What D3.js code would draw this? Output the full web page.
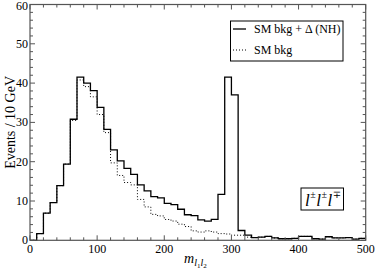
<!DOCTYPE html>
<html>
<head>
<meta charset="utf-8">
<script src="https://cdn.jsdelivr.net/npm/d3@7"></script>
<style>
  body { margin: 0; background: #fff; }
  text { font-family: "Liberation Serif", "DejaVu Serif", serif; fill: #000; }
</style>
</head>
<body>
<div class="chart"></div>
<script>
// bin width 10 GeV, lower edges 0..490
let binEdges = d3.range(0, 500, 10);

// SM bkg + Delta (NH)
let signalBkg = [0, 1.7, 6.9, 9.6, 13.9, 19.4, 30.8, 41.5, 40.0, 38.1,
  33.8, 28.2, 23.0, 20.2, 18.3, 16.8, 14.1, 12.6, 11.1, 10.8,
  9.4, 9.1, 7.9, 6.5, 6.3, 5.2, 4.9, 5.3, 11.7, 41.5,
  37.0, 2.5, 1.3, 0.7, 0.8, 1.0, 0.6, 0.4, 0.4, 0.5,
  1.0, 1.0, 0.4, 0.3, 0.9, 0.6, 0.6, 0.7, 0.3, 0.5];

// SM bkg only
let smBkg = [0, 1.7, 6.9, 9.6, 13.9, 19.4, 30.5, 40.8, 39.1, 36.5,
  32.0, 27.4, 19.7, 16.5, 14.7, 14.1, 10.4, 8.5, 6.6, 6.2,
  5.3, 4.9, 4.1, 3.5, 2.4, 2.1, 2.4, 2.1, 1.7, 1.6,
  1.3, 1.3, 0.8, 0.7, 0.8, 1.0, 0.6, 0.4, 0.4, 0.5,
  1.0, 1.0, 0.4, 0.3, 0.9, 0.6, 0.6, 0.7, 0.3, 0.5];

let xMajor = [0, 100, 200, 300, 400, 500];
let yMajor = [0, 10, 20, 30, 40, 50, 60];

let svgWidth = 376;
let svgHeight = 273;
let plot = { left: 30, right: 365.7, top: 4.5, bottom: 240.3 };

let svg = d3.select(".chart")
  .append("svg")
  .attr("width", svgWidth)
  .attr("height", svgHeight);

let x = d3.scaleLinear().domain([0, 500]).range([plot.left, plot.right]);
let y = d3.scaleLinear().domain([0, 60]).range([plot.bottom, plot.top]);

// histogram step paths
function steps(vals) {
  let pts = binEdges.map((e, i) => [e, vals[i]]);
  pts.push([500, vals[vals.length - 1]]);
  return d3.line()
    .x(d => x(d[0]))
    .y(d => y(d[1]))
    .curve(d3.curveStepAfter)(pts);
}

svg.append("path")
  .attr("d", steps(smBkg))
  .attr("fill", "none")
  .attr("stroke", "#000")
  .attr("stroke-width", 1)
  .attr("stroke-dasharray", "1,2");

svg.append("path")
  .attr("d", steps(signalBkg))
  .attr("fill", "none")
  .attr("stroke", "#000")
  .attr("stroke-width", 1.3);

// frame
svg.append("rect")
  .attr("x", plot.left).attr("y", plot.top)
  .attr("width", plot.right - plot.left)
  .attr("height", plot.bottom - plot.top)
  .attr("fill", "none")
  .attr("stroke", "#555")
  .attr("stroke-width", 1.2);

// inward ticks on all four sides
let ticks = svg.append("g").attr("stroke", "#555").attr("stroke-width", 1);
d3.range(0, 501, 20).forEach(v => {
  let len = v % 100 === 0 ? 5 : 3;
  ticks.append("line").attr("x1", x(v)).attr("x2", x(v)).attr("y1", plot.bottom).attr("y2", plot.bottom - len);
  ticks.append("line").attr("x1", x(v)).attr("x2", x(v)).attr("y1", plot.top).attr("y2", plot.top + len);
});
d3.range(0, 61, 2).forEach(v => {
  let len = v % 10 === 0 ? 5 : 3;
  ticks.append("line").attr("y1", y(v)).attr("y2", y(v)).attr("x1", plot.left).attr("x2", plot.left + len);
  ticks.append("line").attr("y1", y(v)).attr("y2", y(v)).attr("x1", plot.right).attr("x2", plot.right - len);
});

// tick labels
svg.selectAll(".xl").data(xMajor).enter().append("text")
  .attr("x", d => x(d)).attr("y", plot.bottom + 13)
  .attr("text-anchor", "middle")
  .style("font-size", "12px")
  .text(d => d);

svg.selectAll(".yl").data(yMajor).enter().append("text")
  .attr("x", plot.left - 2).attr("y", d => Math.max(y(d) + 4, 9.5))
  .attr("text-anchor", "end")
  .style("font-size", "12px")
  .text(d => d);

// axis titles
svg.append("text")
  .attr("transform", `translate(15, ${(plot.top + plot.bottom) / 2}) rotate(-90)`)
  .attr("text-anchor", "middle")
  .style("font-size", "14px")
  .text("Events / 10 GeV");

let xt = svg.append("text")
  .attr("x", 184).attr("y", 263)
  .style("font-size", "14px");
xt.append("tspan").style("font-style", "italic").text("m");
xt.append("tspan").attr("dy", 3).style("font-size", "10px").style("font-style", "italic").text("l");
xt.append("tspan").attr("dy", 2).style("font-size", "7px").text("1");
xt.append("tspan").attr("dy", -2).style("font-size", "10px").style("font-style", "italic").text("l");
xt.append("tspan").attr("dy", 2).style("font-size", "7px").text("2");

// legend
let legend = svg.append("g");
legend.append("rect")
  .attr("x", 230.5).attr("y", 21).attr("width", 112.5).attr("height", 40)
  .attr("fill", "#fff").attr("stroke", "#000").attr("stroke-width", 1);
legend.append("line").attr("x1", 233).attr("x2", 246).attr("y1", 29).attr("y2", 29)
  .attr("stroke", "#000").attr("stroke-width", 1.3);
legend.append("line").attr("x1", 233).attr("x2", 246).attr("y1", 50).attr("y2", 50)
  .attr("stroke", "#000").attr("stroke-width", 1).attr("stroke-dasharray", "1,2");
legend.append("text").attr("x", 254).attr("y", 33).style("font-size", "12px").text("SM bkg + \u0394 (NH)");
legend.append("text").attr("x", 254).attr("y", 54).style("font-size", "12px").text("SM bkg");

// channel label
svg.append("rect")
  .attr("x", 301).attr("y", 188).attr("width", 42.5).attr("height", 22)
  .attr("fill", "#fff").attr("stroke", "#000").attr("stroke-width", 1);
let ch = svg.append("text").attr("x", 305).attr("y", 206).style("font-size", "17px").style("font-style", "italic");
ch.append("tspan").text("l");
ch.append("tspan").attr("dy", -8).attr("dx", 0.5).style("font-size", "10px").style("font-style", "normal").text("\u00b1");
ch.append("tspan").attr("dy", 8).attr("dx", 0.5).text("l");
ch.append("tspan").attr("dy", -8).attr("dx", 0.5).style("font-size", "10px").style("font-style", "normal").text("\u00b1");
ch.append("tspan").attr("dy", 8).attr("dx", 0.5).text("l");
ch.append("tspan").attr("dy", -8).attr("dx", 0.5).style("font-size", "10px").style("font-style", "normal").text("\u2213");
</script>
</body>
</html>
